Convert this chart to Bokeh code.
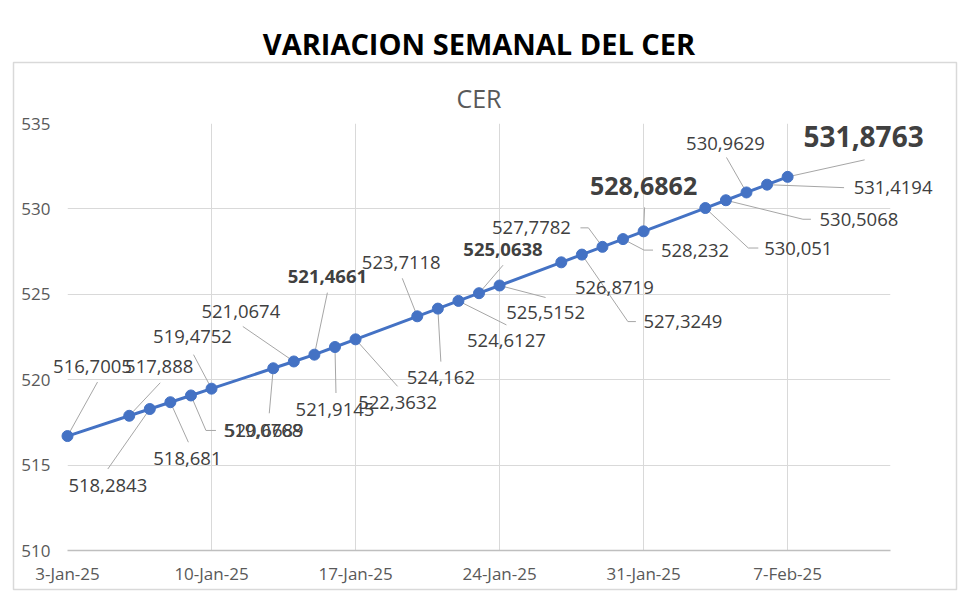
import pandas as pd
from bokeh.plotting import figure
from bokeh.models import ColumnDataSource, Range1d, FixedTicker, Title
from bokeh.embed import file_html
from bokeh.resources import INLINE
from bokeh.core.properties import value

# ---------------- data ----------------
dates = ["2025-01-03", "2025-01-06", "2025-01-07", "2025-01-08", "2025-01-09", "2025-01-10",
         "2025-01-13", "2025-01-14", "2025-01-15", "2025-01-16", "2025-01-17",
         "2025-01-20", "2025-01-21", "2025-01-22", "2025-01-23", "2025-01-24",
         "2025-01-27", "2025-01-28", "2025-01-29", "2025-01-30", "2025-01-31",
         "2025-02-03", "2025-02-04", "2025-02-05", "2025-02-06", "2025-02-07"]
cer = [516.7005, 517.888, 518.2843, 518.681, 519.0768, 519.4752,
       520.6689, 521.0674, 521.4661, 521.9145, 522.3632,
       523.7118, 524.162, 524.6127, 525.0638, 525.5152,
       526.8719, 527.3249, 527.7782, 528.232, 528.6862,
       530.051, 530.5068, 530.9629, 531.4194, 531.8763]
tick_dates = ["2025-01-03", "2025-01-10", "2025-01-17", "2025-01-24", "2025-01-31", "2025-02-07"]
tick_labels = ["3-Jan-25", "10-Jan-25", "17-Jan-25", "24-Jan-25", "31-Jan-25", "7-Feb-25"]
y_ticks = [510, 515, 520, 525, 530, 535]
axis_start = "2025-01-03"
axis_end = "2025-02-12"
title_text = "VARIACION SEMANAL DEL CER"
series_name = "CER"

# ---------------- label layout (pixel offsets, screen y down) ----------------
label_offsets = [(25, -70), (30, -49), (-42, 76), (17, 56), (72, 35), (-19, -52),
                 (-9, 62), (-53, -50), (13, -78), (0, 62), (42, 63),
                 (-16, -54), (3, 69), (48, 40), (24, -44), (46, 27),
                 (53, 25), (101, 67), (-71, -19), (72, 11), (0, -45),
                 (93, 40), (133, 19), (-21, -49), (126, 3), (76, -40)]
leaders = [[(0, 0), (30, -54)], [(0, 0), (31, -33)], [(0, 0), (-42, 60)], [(0, 0), (18, 40)],
           [(0, 0), (15, 35), (25, 35)], [(0, 0), (-18, -34)],
           [(0, 0), (-4, 45)], [(0, 0), (-51, -35)], [(0, 0), (13, -62)], [(0, 0), (1, 46)],
           [(0, 0), (42, 47)],
           [(0, 0), (-15, -38)], [(0, 0), (3, 53)], [(0, 0), (48, 24)], [(0, 0), (24, -28)],
           [(0, 0), (46, 12)],
           None, [(0, 0), (46, 67), (54, 67)], [(0, 0), (-14, -19), (-22, -19)],
           [(0, 0), (21, 11), (30, 11)], [(0, 0), (1, -24)],
           [(0, 0), (43, 40), (53, 40)], [(0, 0), (77, 19), (85, 19)], [(0, 0), (-20, -35)],
           [(0, 0), (77, 3)], [(0, 0), (77, -17)]]
label_sizes = {8: ("18.5px", "bold"), 14: ("18.5px", "bold"), 20: ("25px", "bold"), 25: ("28px", "bold")}

# ---------------- geometry ----------------
W, H = 980, 603
BL, BR, BT, BB = 67, 90, 123, 53
frame_w = W - BL - BR
frame_h = H - BT - BB
# outer chart box, canvas pixels (left, right, top, bottom)
BOX = (13, 956, 62, 589)

t0 = pd.Timestamp(axis_start)
xs = [(pd.Timestamp(d) - t0).days for d in dates]
x_end = (pd.Timestamp(axis_end) - t0).days
tick_x = [(pd.Timestamp(d) - t0).days for d in tick_dates]

ppx = frame_w / x_end
ppy = frame_h / (y_ticks[-1] - y_ticks[0])


def fmt(v):
    s = f"{v:.4f}".rstrip("0").rstrip(".")
    return s.replace(".", ",")


texts = [fmt(v) for v in cer]
fs = [label_sizes.get(i, ("18.5px", "normal"))[0] for i in range(len(cer))]
fst = [label_sizes.get(i, ("18.5px", "normal"))[1] for i in range(len(cer))]

lab_src = ColumnDataSource(dict(x=xs, y=cer, t=texts,
                                dx=[o[0] for o in label_offsets],
                                dy=[o[1] for o in label_offsets],
                                fsize=fs, fstyle=fst))

lx, ly = [], []
for x, y, ld in zip(xs, cer, leaders):
    if ld is None:
        continue
    lx.append([x + px / ppx for px, py in ld])
    ly.append([y - py / ppy for px, py in ld])

p = figure(width=W, height=H, x_range=Range1d(0, x_end), y_range=Range1d(y_ticks[0], y_ticks[-1]),
           output_backend="svg", toolbar_location=None,
           min_border_left=BL, min_border_right=BR, min_border_top=BT, min_border_bottom=BB)
p.outline_line_color = None
p.background_fill_color = "white"
p.border_fill_color = "white"

p.title.text = title_text
p.title.align = "center"
p.title.standoff = 16
p.title.text_font = "Open Sans"
p.title.text_font_size = "29px"
p.title.text_font_style = "bold"
p.title.text_color = "black"
p.add_layout(Title(text=series_name, align="center", standoff=17, text_font="Open Sans",
                   text_font_size="25px", text_font_style="normal", text_color="#595959"), "above")

p.xaxis.ticker = FixedTicker(ticks=tick_x)
p.xaxis.major_label_overrides = {tx: lab for tx, lab in zip(tick_x, tick_labels)}
p.yaxis.ticker = FixedTicker(ticks=y_ticks)
for ax in (p.xaxis[0], p.yaxis[0]):
    ax.major_tick_line_color = None
    ax.minor_tick_line_color = None
    ax.major_tick_out = 0
    ax.minor_tick_out = 0
    ax.major_label_text_font = "Open Sans"
    ax.major_label_text_font_size = "17px"
    ax.major_label_text_color = "#595959"
p.xaxis.axis_line_color = "#bfbfbf"
p.xaxis.axis_line_width = 1.5
p.yaxis.axis_line_color = None
p.xaxis.major_label_standoff = 11
p.yaxis.major_label_standoff = 17

p.xgrid.grid_line_color = "#d9d9d9"
p.ygrid.grid_line_color = "#d9d9d9"

# outer chart border (decoration), expressed through the plot scales
bl, br, bt, bb = BOX
p.quad(left=[(bl - BL) / ppx], right=[(br - BL) / ppx],
       top=[y_ticks[-1] + (BT - bt) / ppy], bottom=[y_ticks[0] - (bb - (H - BB)) / ppy],
       fill_alpha=0, line_color="#d9d9d9", line_width=1.5, level="overlay")

p.multi_line(lx, ly, line_color="#a6a6a6", line_width=1, level="overlay")
p.line(xs, cer, line_color="#4472C4", line_width=3)
p.scatter(xs, cer, size=11, fill_color="#4472C4", line_color="#4472C4", level="overlay")

p.text(x="x", y="y", text="t", x_offset="dx", y_offset="dy", source=lab_src,
       text_font=value("Open Sans"), text_font_size="fsize", text_font_style="fstyle",
       text_color="#404040", text_align="center", text_baseline="middle", level="overlay")

open("out.html", "w").write(file_html(p, INLINE))
